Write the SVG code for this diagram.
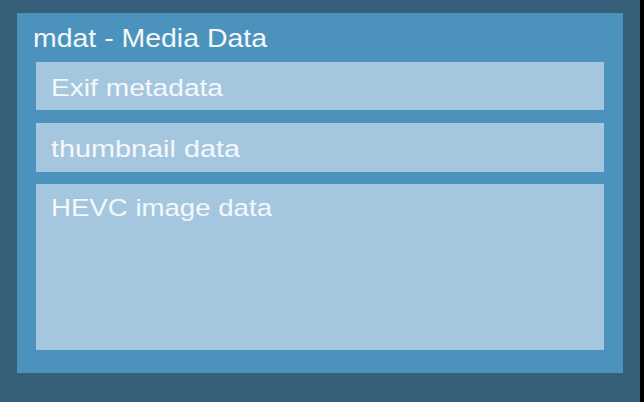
<svg xmlns="http://www.w3.org/2000/svg" width="644" height="402" viewBox="0 0 644 402">
<style>
.t{font-family:"Liberation Sans",Arial,sans-serif;fill:#f4f8fb}
.sub{fill:#a4c7df}
</style>
<rect x="0" y="0" width="644" height="402" fill="#000"/>
<rect x="0" y="0" width="640" height="402" fill="#365f79"/>
<g id="mdat">
<rect x="17" y="13" width="606" height="360" fill="#4b93bc"/>
<text class="t" x="33" y="47" font-size="26" textLength="234" lengthAdjust="spacingAndGlyphs">mdat - Media Data</text>
</g>
<g id="exif">
<rect class="sub" x="36" y="62" width="568" height="48"/>
<text class="t" x="51" y="96" font-size="24.5" textLength="172" lengthAdjust="spacingAndGlyphs">Exif metadata</text>
</g>
<g id="thumbnail">
<rect class="sub" x="36" y="123" width="568" height="49"/>
<text class="t" x="51" y="157" font-size="24.5" textLength="189" lengthAdjust="spacingAndGlyphs">thumbnail data</text>
</g>
<g id="hevc">
<rect class="sub" x="36" y="184" width="568" height="166"/>
<text class="t" x="51" y="216" font-size="24.5" textLength="221" lengthAdjust="spacingAndGlyphs">HEVC image data</text>
</g>
<g id="connectors"/>
</svg>
